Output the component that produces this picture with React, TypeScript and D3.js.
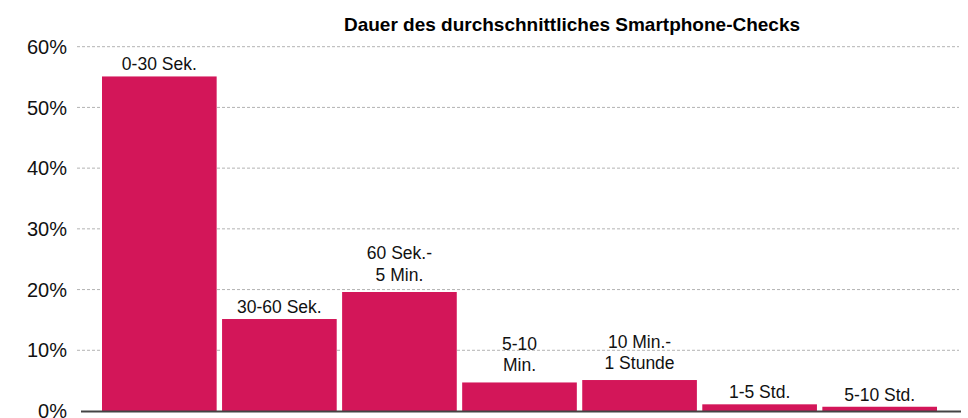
import React, { useEffect, useRef } from 'react';
import * as d3 from 'd3';

const categories = [
  ['0-30 Sek.'],
  ['30-60 Sek.'],
  ['60 Sek.-', '5 Min.'],
  ['5-10', 'Min.'],
  ['10 Min.-', '1 Stunde'],
  ['1-5 Std.'],
  ['5-10 Std.'],
];
const values = [55.1, 15.15, 19.6, 4.7, 5.1, 1.1, 0.7];
const yTicks = [0, 10, 20, 30, 40, 50, 60];
const title = 'Dauer des durchschnittliches Smartphone-Checks';

const App = () => {
  const ref = useRef<SVGSVGElement>(null);

  useEffect(() => {
    const width = 968;
    const height = 418;
    const font = '"Liberation Sans", Arial, sans-serif';

    const svg = d3.select(ref.current).attr('width', width).attr('height', height);
    svg.selectAll('*').remove();

    const x = d3
      .scaleBand<number>()
      .domain(values.map((d, i) => i))
      .range([102, 937])
      .paddingInner(0.045)
      .paddingOuter(0);
    const y = d3.scaleLinear().domain([0, 60]).range([411, 46.7]);

    // grid + tick labels
    const grid = svg.append('g');
    grid
      .selectAll('line')
      .data(yTicks.filter(t => t > 0))
      .enter()
      .append('line')
      .attr('x1', 77)
      .attr('x2', 959)
      .attr('y1', d => y(d))
      .attr('y2', d => y(d))
      .attr('stroke', '#b3b3b3')
      .attr('stroke-width', 1)
      .attr('stroke-dasharray', '3,2');

    // the 0% label sits at the bottom edge, cut off as in the original
    grid
      .selectAll('text')
      .data(yTicks)
      .enter()
      .append('text')
      .attr('x', 67)
      .attr('y', d => y(d))
      .attr('dy', '0.36em')
      .attr('text-anchor', 'end')
      .attr('font-family', font)
      .attr('font-size', 20)
      .attr('fill', '#111')
      .text(d => `${d}%`);

    // bars
    svg
      .append('g')
      .selectAll('rect')
      .data(values)
      .enter()
      .append('rect')
      .attr('x', (d, i) => x(i)!)
      .attr('y', d => y(d))
      .attr('width', x.bandwidth())
      .attr('height', d => y(0) - y(d))
      .attr('fill', '#d31659');

    // bar labels
    const labels = svg
      .append('g')
      .selectAll('text')
      .data(values)
      .enter()
      .append('text')
      .attr('text-anchor', 'middle')
      .attr('font-family', font)
      .attr('font-size', 17.5)
      .attr('fill', '#111');

    labels.each(function (d, i) {
      const lines = categories[i];
      const cx = x(i)! + x.bandwidth() / 2;
      const base = y(d) - (lines.length > 1 ? 11 : 6);
      const lh = 21.5;
      lines.forEach((line, j) => {
        d3.select(this)
          .append('tspan')
          .attr('x', cx)
          .attr('y', base - (lines.length - 1 - j) * lh)
          .text(line);
      });
    });

    // baseline
    svg
      .append('line')
      .attr('x1', 81)
      .attr('x2', 961)
      .attr('y1', y(0) + 0.5)
      .attr('y2', y(0) + 0.5)
      .attr('stroke', '#444')
      .attr('stroke-width', 2);

    // title
    svg
      .append('text')
      .attr('x', 572)
      .attr('y', 31)
      .attr('text-anchor', 'middle')
      .attr('font-family', font)
      .attr('font-weight', 'bold')
      .attr('font-size', 19)
      .attr('fill', '#000')
      .text(title);

    return () => {
      svg.selectAll('*').remove();
    };
  }, []);

  return <svg ref={ref} style={{ position: 'absolute', left: 0, top: 0 }}></svg>;
};

export default App;
